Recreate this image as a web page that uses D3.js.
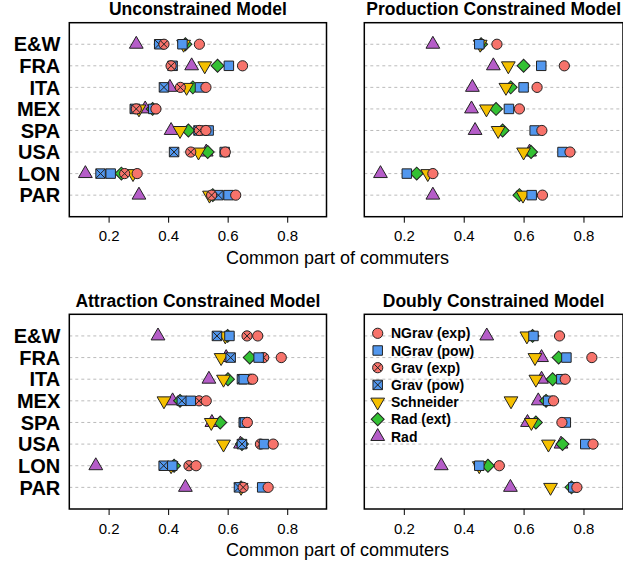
<!DOCTYPE html>
<html>
<head>
<meta charset="utf-8">
<script src="https://cdn.jsdelivr.net/npm/d3@7"></script>
<style>
body { margin: 0; background: #fff; }
svg text { font-family: "Liberation Sans", Arial, Helvetica, sans-serif; }
</style>
</head>
<body>
<svg></svg>
<script>
var countries = ["E&W", "FRA", "ITA", "MEX", "SPA", "USA", "LON", "PAR"];
var ticks = [0.2, 0.4, 0.6, 0.8];
var seriesNames = ["NGrav (exp)", "NGrav (pow)", "Grav (exp)", "Grav (pow)", "Schneider", "Rad (ext)", "Rad"];

// Unconstrained
var ucNGravExp = [0.505, 0.65, 0.527, 0.359, 0.527, 0.592, 0.296, 0.627];
var ucNGravPow = [0.448, 0.604, 0.507, 0.35, 0.536, 0.59, 0.207, 0.603];
var ucGravExp = [0.386, 0.41, 0.441, 0.293, 0.505, 0.476, 0.254, 0.546];
var ucGravPow = [0.37, 0.415, 0.386, 0.288, 0.502, 0.42, 0.173, 0.569];
var ucSchneider = [0.452, 0.523, 0.462, 0.302, 0.44, 0.502, 0.282, 0.539];
var ucRadExt = [0.458, 0.566, 0.483, 0.348, 0.468, 0.533, 0.243, 0.55];
var ucRad = [0.293, 0.479, 0.406, 0.323, 0.41, 0.528, 0.122, 0.302];

// Production constrained
var pcNGravExp = [0.511, 0.736, 0.645, 0.586, 0.661, 0.755, 0.297, 0.663];
var pcNGravPow = [0.452, 0.659, 0.6, 0.551, 0.637, 0.73, 0.21, 0.627];
var pcSchneider = [0.455, 0.549, 0.541, 0.476, 0.515, 0.6, 0.28, 0.598];
var pcRadExt = [0.458, 0.6, 0.557, 0.508, 0.53, 0.625, 0.243, 0.586];
var pcRad = [0.297, 0.499, 0.429, 0.426, 0.438, 0.62, 0.122, 0.297];

// Attraction constrained
var acNGravExp = [0.701, 0.78, 0.684, 0.528, 0.666, 0.753, 0.494, 0.736];
var acNGravPow = [0.606, 0.704, 0.654, 0.476, 0.658, 0.722, 0.414, 0.716];
var acGravExp = [0.665, 0.721, 0.676, 0.504, 0.664, 0.71, 0.47, 0.652];
var acGravPow = [0.564, 0.61, 0.648, 0.446, 0.654, 0.648, 0.385, 0.638];
var acSchneider = [0.592, 0.578, 0.586, 0.386, 0.545, 0.586, 0.41, 0.645];
var acRadExt = [0.6, 0.674, 0.601, 0.44, 0.575, 0.648, 0.42, 0.645];
var acRad = [0.366, 0.595, 0.537, 0.415, 0.547, 0.643, 0.157, 0.458];

// Doubly constrained
var dcNGravExp = [0.72, 0.828, 0.739, 0.7, 0.728, 0.832, 0.519, 0.778];
var dcNGravPow = [0.633, 0.743, 0.726, 0.682, 0.741, 0.806, 0.452, 0.766];
var dcSchneider = [0.611, 0.638, 0.641, 0.558, 0.626, 0.683, 0.452, 0.69];
var dcRadExt = [0.63, 0.717, 0.697, 0.675, 0.641, 0.73, 0.481, 0.76];
var dcRad = [0.477, 0.66, 0.66, 0.649, 0.613, 0.725, 0.325, 0.556];

var styles = [
    {shape: "circle", fill: "#F7736B", cross: false},
    {shape: "square", fill: "#5297EE", cross: false},
    {shape: "circle", fill: "#F7736B", cross: true},
    {shape: "square", fill: "#5297EE", cross: true},
    {shape: "down", fill: "#F5C000", cross: false},
    {shape: "diamond", fill: "#33C133", cross: false},
    {shape: "up", fill: "#B55DC8", cross: false}
];

var panels = [
    {title: "Unconstrained Model", x0: 69.3, x1: 326.5, y0: 22.7, y1: 216.7,
     series: [ucNGravExp, ucNGravPow, ucGravExp, ucGravPow, ucSchneider, ucRadExt, ucRad], labels: true},
    {title: "Production Constrained Model", x0: 364.3, x1: 623, y0: 22.7, y1: 216.7,
     series: [pcNGravExp, pcNGravPow, null, null, pcSchneider, pcRadExt, pcRad], labels: false},
    {title: "Attraction Constrained Model", x0: 69.3, x1: 326.5, y0: 314.3, y1: 509,
     series: [acNGravExp, acNGravPow, acGravExp, acGravPow, acSchneider, acRadExt, acRad], labels: true},
    {title: "Doubly Constrained Model", x0: 364.3, x1: 623, y0: 314.3, y1: 509,
     series: [dcNGravExp, dcNGravPow, null, null, dcSchneider, dcRadExt, dcRad], labels: false, legend: true}
];

var svg = d3.select("svg").attr("width", 623).attr("height", 565);

var shapePath = function(shape)
{
    if (shape == "circle") return d3.symbol(d3.symbolCircle, 82)();
    if (shape == "square") return d3.symbol(d3.symbolSquare, 90)();
    if (shape == "diamond") return d3.symbol(d3.symbolSquare, 84)();
    return d3.symbol(d3.symbolTriangle, 82)();
}

var drawMarker = function(g, st, x, y)
{
    var rot = st.shape == "diamond" ? 45 : (st.shape == "down" ? 180 : 0);
    g.append("path")
        .attr("d", shapePath(st.shape))
        .attr("transform", "translate(" + x + "," + y + ") rotate(" + rot + ")")
        .attr("fill", st.fill)
        .attr("stroke", "#222")
        .attr("stroke-width", 1);
    if (st.cross) {
        var h = st.shape == "circle" ? 3.5 : 4.7;
        g.append("path")
            .attr("d", "M" + (x - h) + "," + (y - h) + "L" + (x + h) + "," + (y + h) +
                       "M" + (x - h) + "," + (y + h) + "L" + (x + h) + "," + (y - h))
            .attr("stroke", "#222")
            .attr("stroke-width", 1);
    }
}

// draw order: reverse of legend
var order = [6, 5, 4, 3, 2, 1, 0];

panels.forEach(function(p)
{
    var xScale = d3.scaleLinear().domain([0.068, 0.932]).range([p.x0, p.x1]);
    var yScale = d3.scaleLinear().domain([0, 9]).range([p.y0, p.y1]);
    var g = svg.append("g");

    g.append("text")
        .attr("x", (p.x0 + p.x1) / 2)
        .attr("y", p.y0 - 7.5)
        .attr("text-anchor", "middle")
        .attr("font-weight", "bold")
        .attr("font-size", 17.5)
        .text(p.title);

    g.selectAll("line.grid")
        .data(countries)
        .enter()
        .append("line")
        .attr("x1", p.x0)
        .attr("x2", p.x1)
        .attr("y1", function(d, i){return yScale(i + 1)})
        .attr("y2", function(d, i){return yScale(i + 1)})
        .attr("stroke", "#bbb")
        .attr("stroke-dasharray", "3,3");

    if (p.labels) {
        g.selectAll("text.lab")
            .data(countries)
            .enter()
            .append("text")
            .attr("x", p.x0 - 9)
            .attr("y", function(d, i){return yScale(i + 1) + 7.2})
            .attr("text-anchor", "end")
            .attr("font-weight", "bold")
            .attr("font-size", 20)
            .text(function(d){return d});
    }

    var axis = d3.axisBottom(xScale).tickValues(ticks).tickSize(6).tickPadding(8)
        .tickFormat(d3.format(".1f"));
    var ax = g.append("g").attr("transform", "translate(0," + p.y1 + ")").call(axis);
    ax.select(".domain").remove();
    ax.selectAll("text").attr("font-size", 15).attr("font-family", "Liberation Sans, Arial, sans-serif")
        .attr("fill", "#000");
    ax.selectAll("line").attr("stroke", "#000");

    order.forEach(function(si)
    {
        var vals = p.series[si];
        if (!vals) return;
        vals.forEach(function(v, i)
        {
            drawMarker(g, styles[si], xScale(v), yScale(i + 1));
        });
    });

    g.append("rect")
        .attr("x", p.x0)
        .attr("y", p.y0)
        .attr("width", p.x1 - p.x0)
        .attr("height", p.y1 - p.y0)
        .attr("fill", "none")
        .attr("stroke", "#000")
        .attr("stroke-width", 1.5);

    if (p.legend) {
        seriesNames.forEach(function(name, i)
        {
            var ly = 333.3 + i * 17.2;
            drawMarker(g, styles[i], 377.7, ly);
            g.append("text")
                .attr("x", 391)
                .attr("y", ly + 5)
                .attr("font-weight", "bold")
                .attr("font-size", 14)
                .text(name);
        });
    }
});

// x axis titles
[{y: 264}, {y: 556}].forEach(function(t)
{
    svg.append("text")
        .attr("x", 337.5)
        .attr("y", t.y)
        .attr("text-anchor", "middle")
        .attr("font-size", 18)
        .text("Common part of commuters");
});
</script>
</body>
</html>
